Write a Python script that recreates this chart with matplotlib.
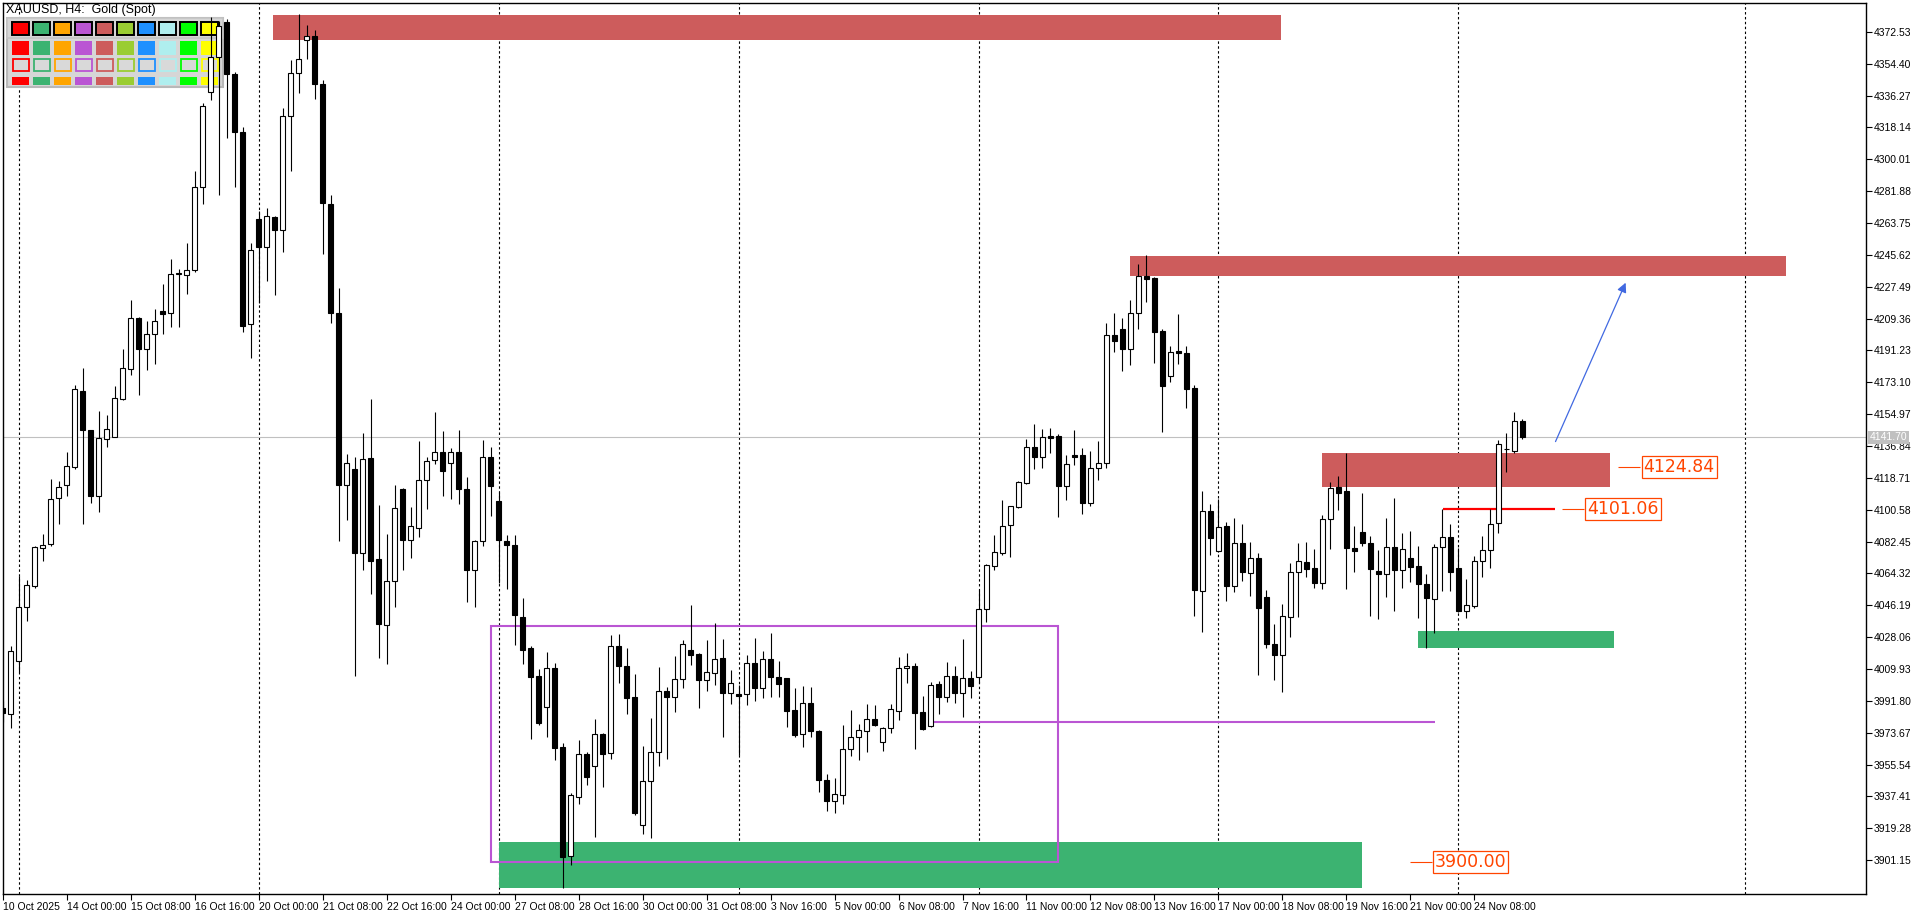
import numpy as np
import matplotlib
matplotlib.use('Agg')
import matplotlib.pyplot as plt
import matplotlib.transforms as mtransforms
from matplotlib.patches import Rectangle

plt.rcParams['font.family'] = ['Liberation Sans', 'DejaVu Sans']

# XAUUSD H4 candles, 10 Oct 16:00 -> 25 Nov 08:00
opens = np.array([
    3988.0, 3984.6, 4014.3, 4045.5, 4057.3, 4078.7, 4081.2, 4107.2, 4114.4, 4125.1,
    4168.4, 4145.7, 4108.1, 4141.0, 4141.8, 4163.8, 4180.8, 4209.6, 4192.3, 4200.5,
    4213.7, 4212.3, 4234.8, 4234.2, 4237.0, 4284.2, 4338.5, 4358.2, 4378.3, 4348.6,
    4315.7, 4206.3, 4265.8, 4250.2, 4267.2, 4259.5, 4324.8, 4348.9, 4367.8, 4370.0,
    4343.1, 4274.8, 4212.3, 4114.9, 4123.7, 4076.0, 4130.0, 4072.4, 4034.8, 4060.1,
    4112.2, 4083.4, 4090.2, 4117.7, 4128.6, 4133.6, 4127.3, 4133.6, 4112.2, 4066.4,
    4082.8, 4130.6, 4105.3, 4082.8, 4080.6, 4039.3, 4021.7, 4006.0, 3988.1, 4010.3,
    3965.4, 3903.7, 3937.3, 3961.4, 3954.9, 3972.8, 3961.9, 4023.2, 4011.8, 3993.8,
    3921.0, 3946.4, 3962.9, 3997.6, 3994.2, 4004.1, 4020.8, 4018.5, 4003.7, 4007.9,
    4016.0, 3996.5, 3995.7, 3995.5, 4013.2, 3999.3, 4015.4, 4005.2, 4004.6, 3986.6,
    3972.8, 3990.4, 3974.8, 3947.0, 3935.0, 3938.0, 3964.2, 3971.1, 3974.8, 3981.5,
    3968.2, 3976.2, 3986.2, 4010.3, 4011.6, 3985.3, 3977.7, 4001.2, 3994.2, 4006.0,
    3996.5, 4004.6, 4005.6, 4043.9, 4068.7, 4076.1, 4091.7, 4102.3, 4115.9, 4136.0,
    4130.7, 4142.5, 4142.5, 4114.2, 4131.7, 4131.7, 4104.2, 4124.6, 4126.9, 4199.9,
    4203.4, 4192.2, 4212.3, 4233.5, 4232.2, 4202.2, 4176.8, 4190.8, 4189.5, 4169.6,
    4054.5, 4099.8, 4077.2, 4091.3, 4057.3, 4081.4, 4064.7, 4072.9, 4051.1, 4024.1,
    4018.1, 4039.7, 4064.9, 4070.6, 4067.2, 4058.6, 4095.1, 4113.3, 4111.2, 4078.6,
    4087.7, 4081.4, 4065.7, 4063.8, 4079.5, 4066.2, 4072.9, 4068.5, 4058.1, 4049.5,
    4079.1, 4084.8, 4067.2, 4043.1, 4045.9, 4071.3, 4077.4, 4092.8, 4134.9, 4134.1,
    4150.8])
highs = np.array([
    3992.0, 4023.0, 4062.8, 4060.6, 4079.8, 4086.9, 4118.2, 4116.8, 4133.6, 4171.7,
    4181.3, 4145.7, 4156.6, 4154.7, 4171.2, 4192.3, 4219.7, 4210.0, 4208.2, 4215.0,
    4228.8, 4243.3, 4237.5, 4252.6, 4293.2, 4332.2, 4381.0, 4378.8, 4379.6, 4349.5,
    4318.5, 4252.1, 4270.5, 4272.1, 4267.7, 4328.9, 4356.3, 4382.9, 4376.3, 4373.6,
    4345.3, 4279.5, 4226.8, 4132.2, 4130.8, 4144.3, 4163.5, 4103.1, 4086.7, 4114.9,
    4113.0, 4102.0, 4139.6, 4130.6, 4156.1, 4145.1, 4135.5, 4145.7, 4119.0, 4083.4,
    4140.4, 4136.0, 4110.8, 4086.1, 4086.1, 4050.1, 4023.0, 4009.8, 4019.4, 4013.2,
    3967.6, 3939.2, 3969.5, 3962.9, 3981.3, 3973.3, 4029.3, 4029.7, 4021.7, 4007.1,
    3966.1, 3981.9, 4010.9, 3999.9, 4017.3, 4026.4, 4046.4, 4018.9, 4026.4, 4035.9,
    4027.0, 4009.4, 4000.8, 4017.9, 4027.4, 4020.2, 4030.2, 4014.5, 4004.6, 3998.9,
    4000.3, 3999.5, 3975.5, 3950.0, 3948.0, 3978.1, 3986.6, 3978.6, 3990.0, 3989.5,
    3977.1, 3990.0, 4017.0, 4018.9, 4013.2, 3994.6, 4002.5, 4003.1, 4014.1, 4011.6,
    4027.0, 4008.8, 4054.9, 4069.7, 4086.2, 4106.1, 4102.7, 4117.1, 4141.1, 4149.3,
    4146.3, 4146.8, 4143.4, 4132.0, 4145.9, 4135.5, 4133.9, 4139.6, 4207.0, 4212.7,
    4209.4, 4219.9, 4240.3, 4245.5, 4232.8, 4203.7, 4193.7, 4211.9, 4193.7, 4171.5,
    4111.4, 4103.8, 4106.4, 4093.5, 4096.0, 4092.4, 4082.0, 4075.7, 4054.9, 4035.5,
    4046.9, 4070.4, 4081.8, 4082.3, 4078.2, 4097.5, 4116.5, 4119.7, 4133.0, 4091.3,
    4109.9, 4085.6, 4077.6, 4096.0, 4107.0, 4087.1, 4088.4, 4079.9, 4064.0, 4081.0,
    4100.9, 4092.4, 4078.6, 4061.1, 4074.2, 4085.6, 4100.8, 4140.2, 4144.0, 4156.3,
    4152.0])
lows = np.array([
    3980.0, 3976.4, 4008.0, 4037.3, 4056.0, 4071.6, 4079.8, 4092.2, 4108.1, 4123.7,
    4092.2, 4104.5, 4099.0, 4136.0, 4141.8, 4162.9, 4177.2, 4165.7, 4180.2, 4183.5,
    4200.5, 4204.6, 4204.6, 4223.3, 4235.6, 4274.8, 4333.7, 4279.5, 4311.9, 4284.4,
    4201.9, 4186.8, 4218.3, 4230.7, 4222.7, 4247.1, 4293.2, 4337.9, 4357.1, 4334.4,
    4246.0, 4206.8, 4082.6, 4094.9, 4005.8, 4066.1, 4052.4, 4016.2, 4012.9, 4045.0,
    4066.4, 4073.0, 4085.3, 4101.2, 4126.7, 4108.1, 4106.7, 4104.0, 4048.3, 4045.0,
    4079.8, 4097.1, 4058.7, 4055.4, 4023.6, 4012.6, 3970.3, 3978.1, 3971.4, 3958.2,
    3885.1, 3898.4, 3933.1, 3943.9, 3914.5, 3943.0, 3958.7, 4001.8, 3984.3, 3926.7,
    3915.9, 3914.0, 3954.9, 3958.9, 3985.7, 3999.3, 4012.2, 3987.9, 3997.4, 4000.8,
    3971.4, 3990.0, 3961.0, 3989.5, 3991.7, 3993.6, 3994.2, 3994.2, 3977.1, 3971.4,
    3965.7, 3971.1, 3940.0, 3929.0, 3928.0, 3933.0, 3960.6, 3958.2, 3962.9, 3977.7,
    3963.5, 3973.3, 3980.9, 4002.2, 3964.4, 3975.2, 3977.1, 3984.3, 3991.3, 3990.8,
    3982.8, 3993.6, 4002.2, 4036.9, 4066.3, 4074.8, 4073.9, 4101.3, 4115.2, 4123.7,
    4124.5, 4133.0, 4096.6, 4106.1, 4126.0, 4098.1, 4102.8, 4117.4, 4124.5, 4190.5,
    4179.6, 4182.9, 4203.2, 4218.9, 4184.2, 4144.9, 4173.4, 4183.4, 4158.6, 4040.0,
    4031.1, 4074.8, 4076.3, 4048.8, 4053.9, 4060.2, 4051.6, 4006.5, 4021.7, 4003.6,
    3997.0, 4028.3, 4039.7, 4062.4, 4055.8, 4055.2, 4078.0, 4100.4, 4055.2, 4065.3,
    4079.9, 4040.2, 4038.2, 4050.7, 4043.1, 4055.8, 4059.6, 4039.1, 4021.7, 4030.2,
    4054.5, 4054.5, 4042.5, 4039.1, 4044.8, 4062.4, 4067.6, 4087.5, 4122.2, 4132.6,
    4140.6])
closes = np.array([
    3985.0, 4020.3, 4045.0, 4057.9, 4079.3, 4080.6, 4106.7, 4113.6, 4125.3, 4169.0,
    4145.7, 4108.1, 4141.5, 4146.5, 4164.3, 4181.3, 4209.6, 4192.3, 4200.5, 4208.2,
    4211.8, 4234.8, 4235.0, 4237.0, 4284.2, 4330.3, 4358.2, 4376.0, 4348.6, 4315.7,
    4205.4, 4248.5, 4250.2, 4267.7, 4259.5, 4324.8, 4348.9, 4357.1, 4370.0, 4342.6,
    4275.4, 4212.3, 4114.9, 4127.3, 4076.0, 4129.5, 4071.6, 4035.4, 4060.1, 4101.8,
    4083.4, 4091.1, 4117.7, 4128.1, 4133.6, 4122.6, 4133.6, 4112.2, 4066.4, 4082.8,
    4130.6, 4114.1, 4083.4, 4080.6, 4040.9, 4020.9, 4005.6, 3979.4, 4010.3, 3965.2,
    3903.1, 3938.1, 3961.4, 3948.7, 3972.8, 3961.6, 4023.2, 4011.8, 3993.6, 3928.2,
    3946.4, 3962.9, 3997.6, 3994.2, 4004.1, 4024.0, 4017.9, 4003.7, 4008.0, 4015.4,
    3996.5, 4002.2, 3994.8, 4013.2, 3999.3, 4015.4, 4005.2, 4001.2, 3986.2, 3972.6,
    3990.4, 3974.8, 3947.0, 3935.0, 3939.0, 3964.4, 3971.1, 3975.2, 3981.5, 3978.1,
    3976.2, 3987.0, 4010.3, 4011.6, 3985.1, 3975.8, 4000.6, 3994.2, 4006.0, 3996.5,
    4004.6, 4000.5, 4043.9, 4069.1, 4076.3, 4091.3, 4102.7, 4116.1, 4136.4, 4130.7,
    4141.7, 4141.5, 4114.2, 4126.4, 4130.7, 4104.2, 4124.6, 4126.9, 4199.9, 4196.7,
    4192.2, 4212.3, 4233.5, 4232.0, 4201.8, 4171.1, 4190.1, 4189.9, 4169.4, 4054.8,
    4099.8, 4084.6, 4090.5, 4057.3, 4081.4, 4064.9, 4072.9, 4044.4, 4024.1, 4018.1,
    4040.1, 4064.9, 4071.3, 4066.6, 4058.6, 4095.1, 4112.7, 4110.2, 4078.6, 4077.2,
    4081.4, 4066.6, 4063.8, 4079.5, 4066.2, 4078.0, 4068.1, 4058.1, 4050.1, 4079.1,
    4084.8, 4065.3, 4043.1, 4046.1, 4071.3, 4077.4, 4092.2, 4137.7, 4134.9, 4150.8,
    4141.7])

time_labels = ['10 Oct 2025', '14 Oct 00:00', '15 Oct 08:00', '16 Oct 16:00', '20 Oct 00:00',
               '21 Oct 08:00', '22 Oct 16:00', '24 Oct 00:00', '27 Oct 08:00', '28 Oct 16:00',
               '30 Oct 00:00', '31 Oct 08:00', '3 Nov 16:00', '5 Nov 00:00', '6 Nov 08:00',
               '7 Nov 16:00', '11 Nov 00:00', '12 Nov 08:00', '13 Nov 16:00', '17 Nov 00:00',
               '18 Nov 08:00', '19 Nov 16:00', '21 Nov 00:00', '24 Nov 08:00']
price_ticks = 4372.53 - 18.13 * np.arange(27)
last_price = 4141.70

# bar numbers of the weekly separators (Monday 00:00), last one is in the future
week_bars = [0, 30, 60, 90, 120, 150, 180, 215.8]

# supply / demand zones: start bar, end bar, low, high
zone_start = [31.8, 139.0, 163.0, 175.0, 60.0]
zone_end = [157.8, 221.0, 199.0, 199.5, 168.0]
zone_low = [4368.1, 4233.7, 4113.7, 4022.1, 3885.2]
zone_high = [4382.1, 4244.9, 4132.7, 4031.5, 3911.7]
zone_colors = ['#CD5C5C', '#CD5C5C', '#CD5C5C', '#3CB371', '#3CB371']

range_box = (59.0, 129.9, 3900.3, 4034.4)     # purple consolidation box
range_line = (114.0, 177.1, 3979.8)           # purple level
break_line = (178.05, 192.1, 4101.06)         # red level
level_labels = [4124.84, 4101.06, 3900.00]

palette = ['#FF0000', '#3CB371', '#FFA500', '#BA55D3', '#CD5C5C',
           '#9ACD32', '#1E90FF', '#AFEEEE', '#00FF00', '#FFFF00']

W, H = 1920, 915
fig = plt.figure(figsize=(W / 100, H / 100), dpi=100)
ax = fig.add_axes([2.7 / W, 21 / H, 1863.3 / W, 891.3 / H])

bars = np.arange(len(opens)) - 2
ax.set_xlim(-1.95, 230.96)
ax.set_ylim(3881.9, 4389.1)

# separators and current price line
for b in week_bars:
    ax.axvline(b, color='black', lw=0.8, linestyle=(0, (2.2, 2.2)), zorder=1)
ax.axhline(last_price, color='#C0C0C0', lw=0.8, zorder=1)

# zones
for s, e, lo, hi, c in zip(zone_start, zone_end, zone_low, zone_high, zone_colors):
    ax.add_patch(Rectangle((s, lo), e - s, hi - lo, facecolor=c, edgecolor='none', zorder=1.5))

ax.add_patch(Rectangle((range_box[0], range_box[2]), range_box[1] - range_box[0],
                       range_box[3] - range_box[2], facecolor='none',
                       edgecolor='#BA55D3', lw=1.5, zorder=2))
ax.hlines(range_line[2], range_line[0], range_line[1], color='#BA55D3', lw=1.5, zorder=2)
ax.hlines(break_line[2], break_line[0], break_line[1], color='#FF0000', lw=1.6, zorder=2)

# candles
up = closes >= opens
ax.vlines(bars, lows, highs, color='black', lw=0.8, zorder=3)
ax.bar(bars, np.abs(closes - opens), bottom=np.minimum(opens, closes), width=0.56,
       color=np.where(up, 'white', 'black'), edgecolor='black', linewidth=0.8, zorder=4)

# price labels with short leader lines
label_pos = [(200.0, 207.6), (193.0, 200.6), (174.0, 181.5)]
for lvl, (lead, cx) in zip(level_labels, label_pos):
    ax.hlines(lvl, lead, lead + 2.7, color='#FF4500', lw=0.8, zorder=5)
    ax.text(cx, lvl, f'{lvl:.2f}', color='#FF4500', fontsize=12.5, family='DejaVu Sans',
            ha='center', va='center', zorder=6,
            bbox=dict(boxstyle='square,pad=0.12', fc='white', ec='#FF4500', lw=0.9))

# projection arrow
ax.annotate('', xy=(201.05, 4231.2), xytext=(192.0, 4137.9),
            arrowprops=dict(arrowstyle='-|>', color='#4169E1', lw=0.9, mutation_scale=14),
            zorder=6)

# axes
for sp in ax.spines.values():
    sp.set_linewidth(1.0)
ax.yaxis.tick_right()
ax.set_yticks(price_ticks)
ax.set_yticklabels([f'{v:.2f}' for v in price_ticks])
ax.set_xticks(bars[::8][:len(time_labels)])
ax.set_xticklabels(time_labels, ha='left')
ax.tick_params(axis='y', direction='out', length=4, width=0.8, pad=1.5, labelsize=7.5)
ax.tick_params(axis='x', direction='out', length=4, width=0.8, pad=1.5, labelsize=7.5)

blend = mtransforms.blended_transform_factory(ax.transAxes, ax.transData)
ax.text(1.002, last_price, f'{last_price:.2f}', transform=blend, color='white', fontsize=7.5,
        ha='left', va='center', clip_on=False, zorder=7,
        bbox=dict(boxstyle='square,pad=0.12', fc='#C0C0C0', ec='none'))

fig.text(6.5 / W, 1 - 9.5 / H, 'XAUUSD, H4:  Gold (Spot)', fontsize=9, va='center', ha='left')

# colour palette panel (top left), in pixels from the top-left corner
def px_rect(x, y, w, h, **kw):
    r = Rectangle((x / W, 1 - (y + h) / H), w / W, h / H, transform=fig.transFigure,
                  clip_on=False, **kw)
    ax.add_patch(r)

px_rect(7.3, 17.7, 215.4, 69.6, facecolor='#D6D6D6', edgecolor='#B8B8B8', lw=1.5, zorder=2.5)
px_rect(7.3, 17.7, 215.4, 20.0, facecolor='#D6D6D6', edgecolor='#C4C4C4', lw=1.2, zorder=2.5)
for k, c in enumerate(palette):
    x0 = 12.3 + 21 * k
    px_rect(x0, 22.3, 17, 12.7, facecolor=c, edgecolor='black', lw=1.4, zorder=2.6)
    px_rect(x0, 40.7, 17, 14.3, facecolor=c, edgecolor='none', zorder=2.6)
    px_rect(x0 + 0.7, 59.0, 15.6, 12.0, facecolor='#D9D9D9', edgecolor=c, lw=1.3, zorder=2.6)
    px_rect(x0, 76.7, 17, 8.3, facecolor=c, edgecolor='none', zorder=2.6)

fig.savefig('out.png', dpi=100)
